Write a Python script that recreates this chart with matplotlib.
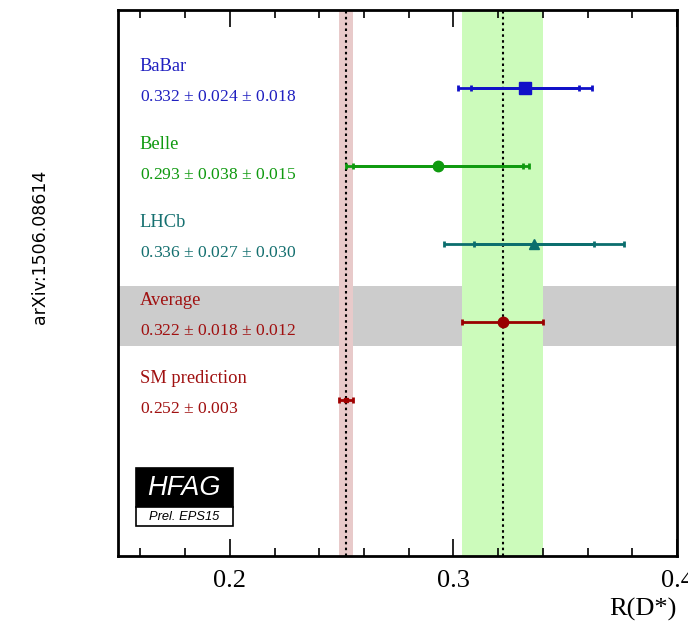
import matplotlib
matplotlib.use('Agg')
import matplotlib.pyplot as plt
from matplotlib.patches import Rectangle
from matplotlib.ticker import MultipleLocator

# ── Data ──────────────────────────────────────────────────────────────────────
names   = ['BaBar', 'Belle', 'LHCb', 'Average', 'SM prediction']
values  = [0.332, 0.293, 0.336, 0.322, 0.252]
stat    = [0.024, 0.038, 0.027, 0.018, 0.003]
syst    = [0.018, 0.015, 0.030, 0.012, 0.0]
labels  = ['0.332 $\\pm$ 0.024 $\\pm$ 0.018',
           '0.293 $\\pm$ 0.038 $\\pm$ 0.015',
           '0.336 $\\pm$ 0.027 $\\pm$ 0.030',
           '0.322 $\\pm$ 0.018 $\\pm$ 0.012',
           '0.252 $\\pm$ 0.003']
avg_val, avg_band = 0.322, 0.018
sm_val, sm_band = 0.252, 0.003

# ── Styles ────────────────────────────────────────────────────────────────────
COLORS  = ['#1010c8', '#0f9a0f', '#0b6e6e', '#990000', '#a00000']
TXT_COL = ['#2020c0', '#109a10', '#157070', '#a01010', '#a01010']
MARKERS = ['s', 'o', '^', 'o', 's']
MSIZES  = [8, 7.5, 6.5, 7.5, 3]
GREEN   = '#ccfbbb'
PINK    = '#e8caca'
GRAY    = '#cccccc'

plt.rcParams['mathtext.fontset'] = 'custom'
plt.rcParams['mathtext.rm'] = 'Liberation Serif'
SERIF = 'Liberation Serif'

fig = plt.figure(figsize=(6.88, 6.26), dpi=100)
ax = fig.add_axes([0.1715, 0.1118, 0.8125, 0.8722])

ax.set_xlim(0.15, 0.40)
ax.set_ylim(7, 0)

# bands and reference lines
ax.axhspan(3.54, 4.31, color=GRAY, zorder=0, lw=0)
ax.axvspan(avg_val - avg_band, avg_val + avg_band, color=GREEN, zorder=1, lw=0)
ax.axvspan(sm_val - sm_band, sm_val + sm_band, color=PINK, zorder=1, lw=0)
ax.axvline(avg_val, color='black', ls=(0, (1.2, 1.6)), lw=1.5, zorder=2)
ax.axvline(sm_val, color='black', ls=(0, (1.2, 1.6)), lw=1.5, zorder=2)

for i, (v, s, sy, c) in enumerate(zip(values, stat, syst, COLORS)):
    y = i + 1
    tot = (s ** 2 + sy ** 2) ** 0.5
    if i == 3:
        tot = s
    ax.errorbar(v, y, xerr=tot, fmt='none', ecolor=c, elinewidth=2,
                capsize=2.5, capthick=2, zorder=3)
    if i < 3:
        ax.errorbar(v, y, xerr=s, fmt='none', ecolor=c, elinewidth=2,
                    capsize=2, capthick=2, zorder=3)
    ax.plot(v, y, marker=MARKERS[i], ms=MSIZES[i], color=c, zorder=4)
    ax.text(0.1598, y - 0.27, names[i], color=TXT_COL[i], fontsize=13.3,
            family=SERIF, va='center', ha='left')
    ax.text(0.1598, y + 0.11, labels[i], color=TXT_COL[i], fontsize=12.6,
            family=SERIF, va='center', ha='left')

# ── Axes styling ──────────────────────────────────────────────────────────────
ax.xaxis.set_minor_locator(MultipleLocator(0.02))
ax.set_xticks([0.2, 0.3, 0.4])
ax.set_xticklabels(['0.2', '0.3', '0.4'], family=SERIF, fontsize=19)
ax.tick_params(axis='x', which='major', direction='in', length=12, width=1.2,
               top=True, pad=10)
ax.tick_params(axis='x', which='minor', direction='in', length=6, width=1.2,
               top=True)
ax.set_yticks([])
for sp in ax.spines.values():
    sp.set_linewidth(2)
ax.text(1.0, -0.097, 'R(D*)', transform=ax.transAxes, ha='right', va='center',
        family=SERIF, fontsize=19)

# arXiv tag
fig.text(0.058, 0.606, 'arXiv:1506.08614', rotation=90, ha='center',
         va='center', fontsize=12.5, family='DejaVu Sans')

# HFAG logo
ax.add_patch(Rectangle((0.032, 0.0897), 0.173, 0.0713, transform=ax.transAxes,
                       facecolor='black', edgecolor='black', lw=1.2,
                       clip_on=False, zorder=5))
ax.add_patch(Rectangle((0.032, 0.0555), 0.173, 0.0342, transform=ax.transAxes,
                       facecolor='white', edgecolor='black', lw=1.2,
                       clip_on=False, zorder=5))
ax.text(0.1185, 0.125, 'HFAG', transform=ax.transAxes, ha='center',
        va='center', color='white', fontsize=19.5, style='italic',
        family='Liberation Sans', zorder=6)
ax.text(0.1185, 0.072, 'Prel. EPS15', transform=ax.transAxes, ha='center',
        va='center', color='black', fontsize=9.3, style='italic',
        family='Liberation Sans', zorder=6)

fig.savefig('out.png', dpi=100)
